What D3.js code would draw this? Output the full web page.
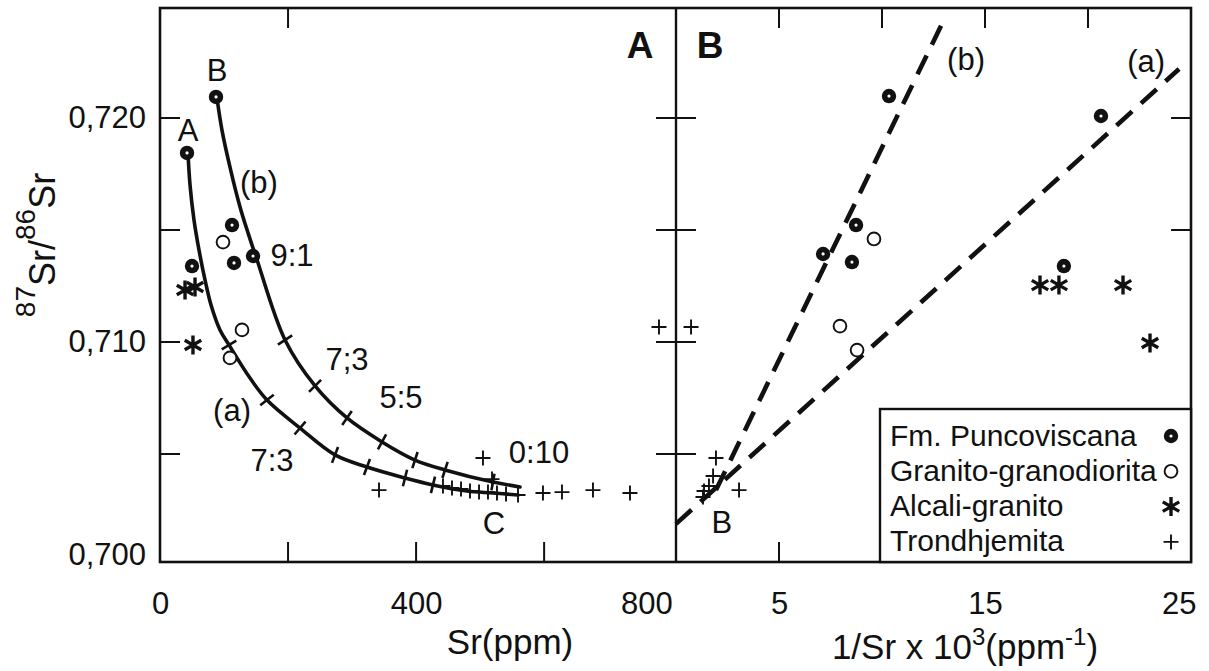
<!DOCTYPE html>
<html lang="es">
<head>
<meta charset="utf-8">
<title>87Sr/86Sr vs Sr</title>
<script src="https://cdn.jsdelivr.net/npm/d3@7/dist/d3.min.js"></script>
<style>
  html, body { margin: 0; padding: 0; background: #fff; }
  svg { display: block; }
  text { font-family: "Liberation Sans", Arial, Helvetica, sans-serif; fill: #111; }
</style>
</head>
<body>
<svg id="chart" width="1209" height="671"></svg>
<script>
// ---------- Panel A: Sr (ppm) vs 87Sr/86Sr ----------
const puncoviscanaA = [[42.2,0.71844],[87.5,0.72094],[50.0,0.71339],[112.5,0.71522],[115.6,0.71353],[145.3,0.71384]];
const granitoA = [[98.4,0.71446],[128.1,0.71054],[109.3,0.70929]];
const alcaliA = [[39.1,0.71232],[54.7,0.71246],[51.5,0.70987]];
const trondhjemitaA = [[342.1,0.70339],[504.5,0.70482],[518.6,0.70388],[442.0,0.70357],[456.1,0.70348],
  [470.2,0.70344],[484.2,0.70335],[498.3,0.70330],[512.3,0.70330],[526.4,0.70326],[540.5,0.70321],
  [559.2,0.70317],[598.2,0.70326],[627.9,0.70330],[676.3,0.70339],[734.1,0.70326],[779.4,0.71067]];

// mixing hyperbolae: A–C (a) and B–C (b)
const mixingCurveA = [[43.7,0.71844],[46.9,0.71701],[53.1,0.71545],[60.9,0.71411],[70.3,0.71277],
  [79.7,0.71165],[93.7,0.71054],[107.8,0.70987],[140.6,0.70839],[167.1,0.70741],[218.7,0.70616],
  [273.4,0.70496],[323.3,0.70442],[382.7,0.70393],[426.4,0.70362],[479.5,0.70335],[520.1,0.70326],[559.2,0.70317]];
const mixingCurveB = [[89.0,0.72089],[96.8,0.71946],[109.3,0.71781],[125.0,0.71603],[137.5,0.71487],
  [151.6,0.71366],[195.3,0.71009],[242.2,0.70804],[292.1,0.70661],[346.8,0.70554],[398.3,0.70473],
  [445.2,0.70429],[520.1,0.70375],[562.3,0.70353]];
// proportion marks along each curve
const mixingTicksA = [[107.8,0.70987],[167.1,0.70741],[218.7,0.70616],[273.4,0.70496],[323.3,0.70442],[382.7,0.70393],[426.4,0.70362]];
const mixingTicksB = [[195.3,0.71009],[242.2,0.70804],[292.1,0.70661],[346.8,0.70554],[398.3,0.70473],[445.2,0.70429],[520.1,0.70375]];

const annotationsA = [
  {t:"A", p:[43.7,0.71946]}, {t:"B", p:[89.0,0.72214]}, {t:"(b)", p:[154.6,0.71710]},
  {t:"9:1", p:[206.2,0.71388]}, {t:"7;3", p:[292.1,0.70924]}, {t:"5:5", p:[376.4,0.70754]},
  {t:"0:10", p:[592.0,0.70509]}, {t:"(a)", p:[112.5,0.70696]}, {t:"7:3", p:[174.9,0.70469]},
  {t:"C", p:[521.7,0.70192]}
];

// ---------- Panel B: 1/Sr x 10^3 vs 87Sr/86Sr ----------
const puncoviscanaB = [[10.34,0.72098],[20.63,0.72009],[7.14,0.71393],[8.74,0.71522],[8.54,0.71357],[18.83,0.71339]];
const granitoB = [[9.61,0.71460],[7.96,0.71071],[8.79,0.70964]];
const alcaliB = [[17.67,0.71254],[18.59,0.71254],[21.70,0.71254],[23.01,0.70996]];
const trondhjemitaB = [[0.73,0.71067],[1.94,0.70482],[1.80,0.70402],[1.60,0.70357],[1.36,0.70335],[1.31,0.70308],[3.06,0.70339]];
const trendLineA = [[0, 0.70188],[24.42, 0.72219]];
const trendLineB = [[1.94, 0.70339],[12.91, 0.72420]];
const annotationsB = [{t:"B", p:[2.23,0.70196]}, {t:"(b)", p:[14.08,0.72259]}, {t:"(a)", p:[22.82,0.72250]}];

// ---------- axes ----------
const ratioTicks = [0.700, 0.710, 0.720];
const ratioMinor = [0.705, 0.710, 0.715, 0.720];
const srTickLabels = [0, 400, 800];
const srMinor = [200, 400, 600];
const invTickLabels = [5, 15, 25];
const invMinor = [5, 10, 15, 20];
const legendItems = [
  {label:"Fm. Puncoviscana", kind:"punco"},
  {label:"Granito-granodiorita", kind:"granito"},
  {label:"Alcali-granito", kind:"alcali"},
  {label:"Trondhjemita", kind:"trond"}
];

const svg = d3.select("#chart");
const FONT = '"Liberation Sans", Arial, Helvetica, sans-serif';

const xA = d3.scaleLinear().domain([0, 806]).range([160, 676]);
const xB = d3.scaleLinear().domain([0, 25]).range([676, 1191]);
const y  = d3.scaleLinear().domain([0.70018, 0.72491]).range([562, 8]);

const [frameL, frameMid] = xA.range();
const frameR = xB.range()[1];
const [frameB, frameT] = y.range();
const TICK = 20;
const ink = "#111";

// tick marks
const gt = svg.append("g").attr("stroke", ink).attr("stroke-width", 2);
function seg(x1, y1, x2, y2) { gt.append("line").attr("x1", x1).attr("y1", y1).attr("x2", x2).attr("y2", y2); }
ratioMinor.forEach(v => { seg(frameL, y(v), frameL + TICK, y(v)); seg(frameMid - TICK, y(v), frameMid + TICK, y(v)); });
[0.715, 0.720].forEach(v => seg(frameR - TICK, y(v), frameR, y(v)));
srMinor.forEach(v => seg(xA(v), frameB, xA(v), frameB - TICK));
seg(xA(200), frameT, xA(200), frameT + TICK);
invMinor.forEach(v => { seg(xB(v), frameT, xB(v), frameT + TICK); seg(xB(v), frameB, xB(v), frameB - TICK); });

// frame
svg.append("rect").attr("x", frameL).attr("y", frameT).attr("width", frameR - frameL).attr("height", frameB - frameT)
  .attr("fill", "none").attr("stroke", ink).attr("stroke-width", 2.6);
svg.append("line").attr("x1", frameMid).attr("x2", frameMid).attr("y1", frameT).attr("y2", frameB)
  .attr("stroke", ink).attr("stroke-width", 2.4);

// tick labels
const fmtRatio = d => d3.format(".3f")(d).replace(".", ",");
const yAxis = svg.append("g").attr("transform", `translate(${frameL},0)`)
  .call(d3.axisLeft(y).tickValues(ratioTicks).tickSize(0).tickPadding(14).tickFormat(fmtRatio));
const xAxisA = svg.append("g").attr("transform", `translate(0,${frameB})`)
  .call(d3.axisBottom(xA).tickValues(srTickLabels).tickSize(0).tickPadding(30));
const xAxisB = svg.append("g").attr("transform", `translate(0,${frameB})`)
  .call(d3.axisBottom(xB).tickValues(invTickLabels).tickSize(0).tickPadding(30));
[yAxis, xAxisA, xAxisB].forEach(g => {
  g.select(".domain").remove();
  g.attr("font-family", FONT).attr("font-size", 31);
  g.selectAll("text").attr("fill", ink);
});
yAxis.selectAll(".tick").filter(d => d === 0.700).select("text").attr("dy", "-0.05em");
xAxisA.selectAll(".tick").filter(d => d === 800).select("text").attr("text-anchor", "end");
xAxisB.selectAll(".tick").filter(d => d === 25).select("text").attr("text-anchor", "end").attr("dx", 5);

// axis titles
const yTitle = svg.append("text").attr("transform", "translate(55,245) rotate(-90)")
  .attr("text-anchor", "middle").attr("font-size", 36);
yTitle.append("tspan").attr("font-size", 28).attr("dy", -20).text("87");
yTitle.append("tspan").attr("dy", 20).text("Sr/");
yTitle.append("tspan").attr("font-size", 28).attr("dy", -20).text("86");
yTitle.append("tspan").attr("dy", 20).text("Sr");

svg.append("text").attr("x", 510).attr("y", 654).attr("text-anchor", "middle").attr("font-size", 35).text("Sr(ppm)");
const xTitleB = svg.append("text").attr("x", 965).attr("y", 659).attr("text-anchor", "middle").attr("font-size", 35);
xTitleB.append("tspan").text("1/Sr x 10");
xTitleB.append("tspan").attr("font-size", 24).attr("dy", -14).text("3");
xTitleB.append("tspan").attr("dy", 14).text("(ppm");
xTitleB.append("tspan").attr("font-size", 24).attr("dy", -14).text("-1");
xTitleB.append("tspan").attr("dy", 14).text(")");

// panel letters
svg.append("text").attr("x", frameMid - 36).attr("y", 58).attr("text-anchor", "middle")
  .attr("font-size", 37).attr("font-weight", "bold").text("A");
svg.append("text").attr("x", frameMid + 34).attr("y", 58).attr("text-anchor", "middle")
  .attr("font-size", 37).attr("font-weight", "bold").text("B");

// mixing curves (panel A)
const curveLine = d3.line().x(d => xA(d[0])).y(d => y(d[1])).curve(d3.curveCatmullRom.alpha(0.5));
[mixingCurveA, mixingCurveB].forEach(c => {
  svg.append("path").attr("d", curveLine(c)).attr("fill", "none").attr("stroke", ink)
    .attr("stroke-width", 3.6).attr("stroke-linecap", "round");
});
// proportion marks perpendicular to the curves
function curveTicks(curve, ticks) {
  const pts = curve.map(d => [xA(d[0]), y(d[1])]);
  ticks.forEach(t => {
    const p = [xA(t[0]), y(t[1])];
    let best = 0, bd = Infinity;
    for (let i = 0; i < pts.length - 1; i++) {
      const mx = (pts[i][0] + pts[i+1][0]) / 2, my = (pts[i][1] + pts[i+1][1]) / 2;
      const dd = (mx - p[0]) ** 2 + (my - p[1]) ** 2;
      if (dd < bd) { bd = dd; best = i; }
    }
    let dx = pts[best + 1][0] - pts[best][0], dy = pts[best + 1][1] - pts[best][1];
    const len = Math.hypot(dx, dy); dx /= len; dy /= len;
    const h = 8.5;
    svg.append("line").attr("x1", p[0] - dy * h).attr("y1", p[1] + dx * h)
      .attr("x2", p[0] + dy * h).attr("y2", p[1] - dx * h)
      .attr("stroke", ink).attr("stroke-width", 2.6);
  });
}
curveTicks(mixingCurveA, mixingTicksA);
curveTicks(mixingCurveB, mixingTicksB);

// dashed trend lines (panel B)
const straight = d3.line().x(d => xB(d[0])).y(d => y(d[1]));
[trendLineA, trendLineB].forEach(l => {
  svg.append("path").attr("d", straight(l)).attr("fill", "none").attr("stroke", ink)
    .attr("stroke-width", 4.6).attr("stroke-dasharray", "21 12");
});

// symbols
const asterisk = { draw(ctx, size) {
  const r = Math.sqrt(size) / 2;
  for (let k = 0; k < 3; k++) {
    const a = Math.PI / 2 + k * Math.PI / 3, dx = r * Math.cos(a), dy = r * Math.sin(a);
    ctx.moveTo(-dx, -dy); ctx.lineTo(dx, dy);
  }
}};
const cross = { draw(ctx, size) {
  const r = Math.sqrt(size) / 2;
  ctx.moveTo(-r, 0); ctx.lineTo(r, 0); ctx.moveTo(0, -r); ctx.lineTo(0, r);
}};
function marks(g, data, xs, kind) {
  const sel = g.selectAll(null).data(data).enter().append("g")
    .attr("transform", d => `translate(${xs(d[0])},${y(d[1])})`);
  if (kind === "punco") {
    sel.append("path").attr("d", d3.symbol(d3.symbolCircle, Math.PI * 7.2 * 7.2)).attr("fill", ink);
    sel.append("path").attr("d", d3.symbol(d3.symbolCircle, Math.PI * 1.6 * 1.6)).attr("fill", "#fff");
  } else if (kind === "granito") {
    sel.append("path").attr("d", d3.symbol(d3.symbolCircle, Math.PI * 6.4 * 6.4))
      .attr("fill", "#fff").attr("stroke", ink).attr("stroke-width", 1.9);
  } else if (kind === "alcali") {
    sel.append("path").attr("d", d3.symbol(asterisk, 19 * 19)).attr("fill", "none")
      .attr("stroke", ink).attr("stroke-width", 3.4);
  } else {
    sel.append("path").attr("d", d3.symbol(cross, 15 * 15)).attr("fill", "none")
      .attr("stroke", ink).attr("stroke-width", 1.9);
  }
}
const gm = svg.append("g");
marks(gm, trondhjemitaA, xA, "trond");
marks(gm, granitoA, xA, "granito");
marks(gm, alcaliA, xA, "alcali");
marks(gm, puncoviscanaA, xA, "punco");
marks(gm, trondhjemitaB, xB, "trond");
marks(gm, granitoB, xB, "granito");
marks(gm, alcaliB, xB, "alcali");
marks(gm, puncoviscanaB, xB, "punco");

// annotations
annotationsA.forEach(a => svg.append("text").attr("x", xA(a.p[0])).attr("y", y(a.p[1]))
  .attr("text-anchor", "middle").attr("dominant-baseline", "central").attr("font-size", 31).text(a.t));
annotationsB.forEach(a => svg.append("text").attr("x", xB(a.p[0])).attr("y", y(a.p[1]))
  .attr("text-anchor", "middle").attr("dominant-baseline", "central").attr("font-size", 31).text(a.t));

// legend
const lg = svg.append("g");
const lgLeft = 880, lgTop = 409;
lg.append("rect").attr("x", lgLeft).attr("y", lgTop).attr("width", frameR - lgLeft).attr("height", frameB - lgTop)
  .attr("fill", "#fff").attr("stroke", ink).attr("stroke-width", 2.4);
legendItems.forEach((it, i) => {
  const cy = lgTop + 26 + i * 35.3;
  lg.append("text").attr("x", lgLeft + 10).attr("y", cy).attr("dominant-baseline", "central")
    .attr("font-size", 30).text(it.label);
  const sy = y.invert(cy + 1);
  marks(lg, [[xB.invert(frameR - 20), sy]], xB, it.kind);
});
</script>
</body>
</html>
